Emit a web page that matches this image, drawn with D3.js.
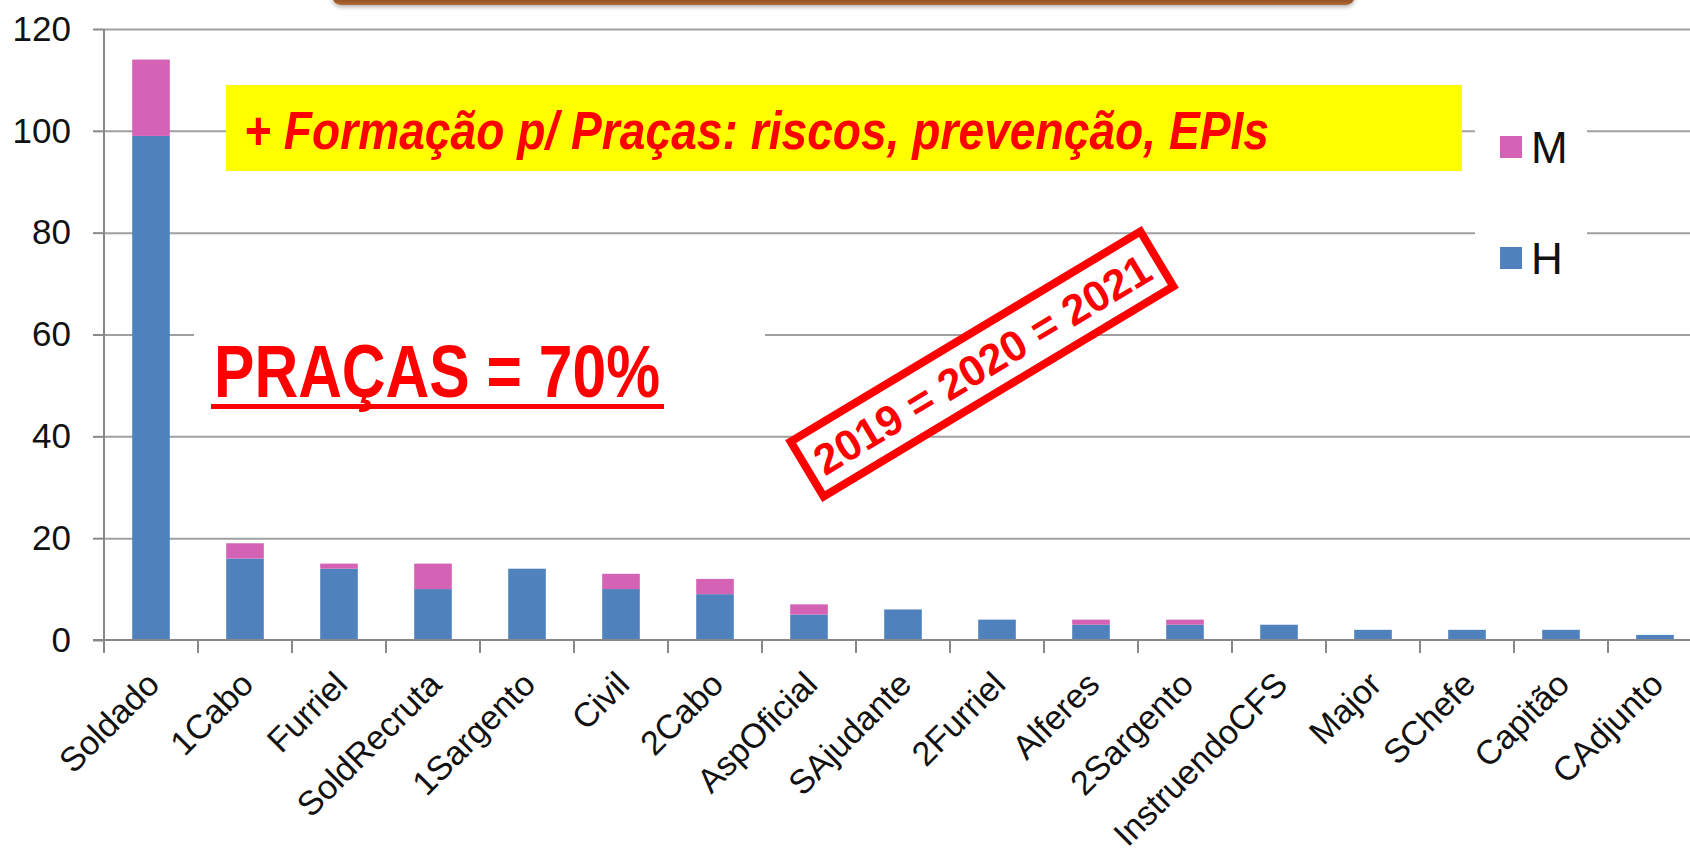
<!DOCTYPE html>
<html>
<head>
<meta charset="utf-8" />
<title>Praças</title>
<script src="https://d3js.org/d3.v7.min.js"></script>
<style>
  body { margin: 0; background: #fff; }
  text { font-family: "Liberation Sans", Arial, sans-serif; }
</style>
</head>
<body>
<svg id="chart" width="1690" height="857"></svg>
<script>
// categories and series
var categories = ["Soldado", "1Cabo", "Furriel", "SoldRecruta", "1Sargento", "Civil", "2Cabo",
  "AspOficial", "SAjudante", "2Furriel", "Alferes", "2Sargento", "InstruendoCFS", "Major",
  "SChefe", "Capitão", "CAdjunto"];
var hValues = [99, 16, 14, 10, 14, 10, 9, 5, 6, 4, 3, 3, 3, 2, 2, 2, 1];
var mValues = [15, 3, 1, 5, 0, 3, 3, 2, 0, 0, 1, 1, 0, 0, 0, 0, 0];
var yTicks = [0, 20, 40, 60, 80, 100, 120];
var seriesNames = ["H", "M"];
var colors = { H: "#4f81bd", M: "#d462b5" };

var svg = d3.select("#chart");

var plotLeft = 104, plotRight = 104 + 17 * 94, plotTop = 29, plotBottom = 640;

var x = d3.scaleBand().domain(categories).range([plotLeft, plotRight])
  .paddingInner(0.6).paddingOuter(0.3);
var y = d3.scaleLinear().domain([0, 120]).range([plotBottom, plotTop]);

// brown title box peeking from the top
var defs = svg.append("defs");
var grad = defs.append("linearGradient").attr("id", "brown").attr("x1", 0).attr("y1", 0).attr("x2", 0).attr("y2", 1);
grad.append("stop").attr("offset", "0%").attr("stop-color", "#6e3510");
grad.append("stop").attr("offset", "80%").attr("stop-color", "#8c4a1c");
grad.append("stop").attr("offset", "100%").attr("stop-color", "#b06a35");
var blur = defs.append("filter").attr("id", "shadow").attr("x", "-5%").attr("y", "-50%").attr("width", "110%").attr("height", "200%");
blur.append("feDropShadow").attr("dx", 0).attr("dy", 2).attr("stdDeviation", 2).attr("flood-color", "#000").attr("flood-opacity", 0.3);
svg.append("rect").attr("x", 332).attr("y", -30).attr("width", 1023).attr("height", 35)
  .attr("rx", 9).attr("fill", "url(#brown)").attr("filter", "url(#shadow)");

// gridlines
svg.append("g")
  .attr("transform", "translate(" + plotLeft + ",0)")
  .call(d3.axisLeft(y).tickValues(yTicks.slice(1)).tickSize(-(1690 - plotLeft)).tickFormat(""))
  .call(function(g) {
    g.select(".domain").remove();
    g.selectAll("line").attr("stroke", "#a0a0a0").attr("stroke-width", 2);
  });

// white boxes that hide parts of gridlines
svg.append("rect").attr("x", 194).attr("y", 290).attr("width", 571).attr("height", 130).attr("fill", "#fff");
svg.append("rect").attr("x", 1475).attr("y", 100).attr("width", 112).attr("height", 190).attr("fill", "#fff");

// stacked bars
var rows = categories.map(function(c, i) { return { cat: c, H: hValues[i], M: mValues[i] }; });
var stack = d3.stack().keys(seriesNames)(rows);

svg.append("g").selectAll("g")
  .data(stack)
  .join("g")
  .attr("fill", function(s) { return colors[s.key]; })
  .selectAll("rect")
  .data(function(s) { return s; })
  .join("rect")
  .attr("x", function(d) { return x(d.data.cat); })
  .attr("width", x.bandwidth())
  .attr("y", function(d) { return y(d[1]); })
  .attr("height", function(d) { return y(d[0]) - y(d[1]); });

// y axis
svg.append("g")
  .attr("transform", "translate(" + plotLeft + ",0)")
  .call(d3.axisLeft(y).tickValues(yTicks).tickSize(11).tickPadding(22))
  .call(function(g) {
    g.select(".domain").attr("stroke", "#888").attr("stroke-width", 2).attr("d", "M0," + plotTop + "V" + plotBottom);
    g.selectAll("line").attr("stroke", "#888").attr("stroke-width", 2);
    g.selectAll("text").attr("font-size", 35).attr("fill", "#111")
      .style("font-family", "'Liberation Sans', Arial, sans-serif");
  });

// x axis baseline and boundary ticks
var xAxis = svg.append("g");
xAxis.append("line").attr("x1", plotLeft - 11).attr("x2", 1690).attr("y1", plotBottom).attr("y2", plotBottom)
  .attr("stroke", "#888").attr("stroke-width", 2);
xAxis.selectAll(".bt")
  .data(categories)
  .join("line")
  .attr("x1", function(d) { return x(d) - x.step() * 0.3; })
  .attr("x2", function(d) { return x(d) - x.step() * 0.3; })
  .attr("y1", plotBottom).attr("y2", plotBottom + 13)
  .attr("stroke", "#888").attr("stroke-width", 2);

xAxis.selectAll(".lbl")
  .data(categories)
  .join("text")
  .attr("transform", function(d) {
    return "translate(" + (x(d) + x.bandwidth() / 2 + 2) + "," + (plotBottom + 38) + ") rotate(-45)";
  })
  .attr("text-anchor", "end")
  .attr("dy", "0.35em")
  .attr("font-size", 34)
  .attr("fill", "#111")
  .text(function(d) { return d; });

// legend
var legend = svg.append("g");
[{ key: "M", y: 147 }, { key: "H", y: 258 }].forEach(function(l) {
  legend.append("rect").attr("x", 1500).attr("y", l.y - 11).attr("width", 22).attr("height", 22)
    .attr("fill", colors[l.key]);
  legend.append("text").attr("x", 1531).attr("y", l.y).attr("dy", "0.36em")
    .attr("font-size", 44).attr("fill", "#111").text(l.key);
});

// yellow banner
svg.append("rect").attr("x", 226).attr("y", 85).attr("width", 1236).attr("height", 86).attr("fill", "#ffff00");
svg.append("text").attr("x", 244).attr("y", 149)
  .attr("font-size", 54).attr("font-weight", "bold").attr("font-style", "italic")
  .attr("fill", "#ff0000")
  .attr("textLength", 1025).attr("lengthAdjust", "spacingAndGlyphs")
  .text("+ Formação p/ Praças: riscos, prevenção, EPIs");

// PRAÇAS = 70%
svg.append("text").attr("x", 214).attr("y", 397)
  .attr("font-size", 75).attr("font-weight", "bold").attr("fill", "#ff0000")
  .attr("textLength", 446).attr("lengthAdjust", "spacingAndGlyphs")
  .text("PRAÇAS = 70%");
svg.append("rect").attr("x", 211).attr("y", 404).attr("width", 453).attr("height", 5).attr("fill", "#ff0000");

// stamp
var stamp = svg.append("g").attr("transform", "translate(982,364) rotate(-31)");
stamp.append("rect").attr("x", -204).attr("y", -32).attr("width", 408).attr("height", 64)
  .attr("fill", "#fff").attr("stroke", "#ff0000").attr("stroke-width", 8);
stamp.append("text").attr("x", 0).attr("y", 0).attr("dy", "0.36em")
  .attr("text-anchor", "middle").attr("font-size", 43).attr("font-weight", "bold")
  .attr("fill", "#ff0000")
  .text("2019 = 2020 = 2021");
</script>
</body>
</html>
